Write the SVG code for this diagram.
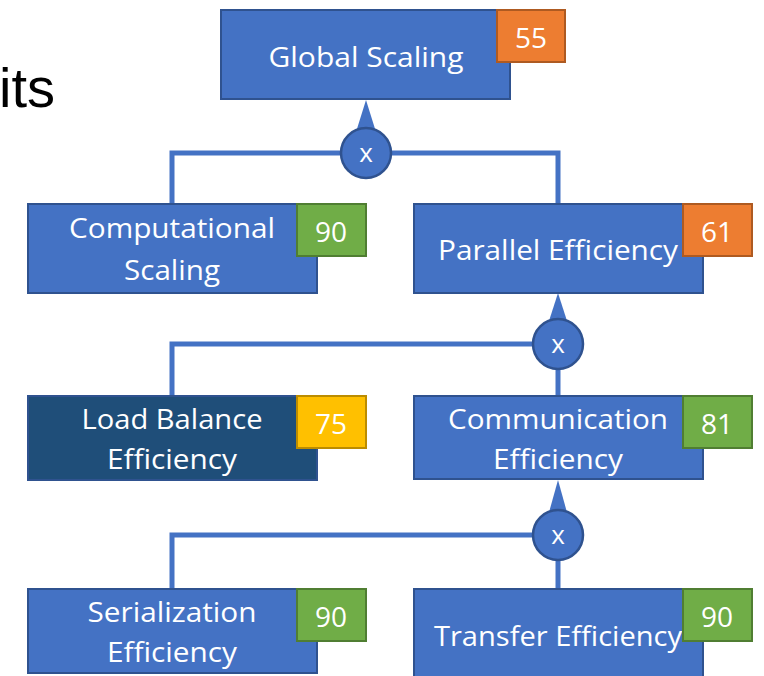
<svg xmlns="http://www.w3.org/2000/svg" width="764" height="676" viewBox="0 0 764 676">
<style>
.box{fill:#4472C4;stroke:#2F528F;stroke-width:2}
.dark{fill:#1F4E79;stroke:#2F528F;stroke-width:2}
.orange{fill:#ED7D31;stroke:#AE5A21;stroke-width:2}
.green{fill:#70AD47;stroke:#507E32;stroke-width:2}
.yellow{fill:#FFC000;stroke:#BC8C00;stroke-width:2}
.lbl{font-family:"Open Sans","Noto Sans",sans-serif;font-size:28px;fill:#FFFFFF;text-anchor:middle}
.num{font-family:"Open Sans","Noto Sans",sans-serif;font-size:28px;fill:#FFFFFF;text-anchor:middle}
.wire{fill:none;stroke:#4472C4;stroke-width:5}
.op{fill:#4472C4;stroke:#2F528F;stroke-width:2.5}
.arr{fill:#4472C4}
.opx{font-family:"Open Sans","Noto Sans",sans-serif;font-size:26px;fill:#FFFFFF;text-anchor:middle}
</style>
<text x="55" y="107" font-family="Liberation Sans, Arial, sans-serif" font-size="56" fill="#000000" text-anchor="end">its</text>
<g id="connectors">
<polyline class="wire" points="172,203 172,153 558,153 558,203"/>
<polygon class="arr" points="366,100 356,132 376,132"/>
<polyline class="wire" points="172,395 172,344 558,344"/>
<line class="wire" x1="558" y1="344" x2="558" y2="395"/>
<polygon class="arr" points="558,293 548,324 568,324"/>
<polyline class="wire" points="172,588 172,535 558,535"/>
<line class="wire" x1="558" y1="535" x2="558" y2="588"/>
<polygon class="arr" points="558,480 548,516 568,516"/>
</g>
<g id="global-scaling">
<rect class="box" x="221" y="10" width="289" height="89"/>
<text class="lbl" x="366" y="67" textLength="195" lengthAdjust="spacingAndGlyphs">Global Scaling</text>
<rect class="orange" x="497" y="10" width="68" height="52"/>
<text class="num" x="531" y="48">55</text>
</g>
<g id="mul-1">
<circle class="op" cx="366" cy="153" r="25"/>
<text class="opx" x="366" y="162">x</text>
</g>
<g id="computational-scaling">
<rect class="box" x="28" y="204" width="289" height="89"/>
<text class="lbl" x="172" y="238" textLength="206" lengthAdjust="spacingAndGlyphs">Computational</text>
<text class="lbl" x="172" y="280" textLength="96" lengthAdjust="spacingAndGlyphs">Scaling</text>
<rect class="green" x="297" y="204" width="69" height="52"/>
<text class="num" x="331" y="242">90</text>
</g>
<g id="parallel-efficiency">
<rect class="box" x="414" y="204" width="289" height="89"/>
<text class="lbl" x="558" y="260" textLength="240" lengthAdjust="spacingAndGlyphs">Parallel Efficiency</text>
<rect class="orange" x="683" y="204" width="69" height="52"/>
<text class="num" x="717" y="242">61</text>
</g>
<g id="mul-2">
<circle class="op" cx="558" cy="344" r="25"/>
<text class="opx" x="558" y="353">x</text>
</g>
<g id="load-balance-efficiency">
<rect class="dark" x="28" y="396" width="289" height="84"/>
<text class="lbl" x="172" y="429" textLength="181" lengthAdjust="spacingAndGlyphs">Load Balance</text>
<text class="lbl" x="172" y="469" textLength="130" lengthAdjust="spacingAndGlyphs">Efficiency</text>
<rect class="yellow" x="297" y="396" width="69" height="52"/>
<text class="num" x="331" y="434">75</text>
</g>
<g id="communication-efficiency">
<rect class="box" x="414" y="396" width="289" height="83"/>
<text class="lbl" x="558" y="429" textLength="220" lengthAdjust="spacingAndGlyphs">Communication</text>
<text class="lbl" x="558" y="469" textLength="130" lengthAdjust="spacingAndGlyphs">Efficiency</text>
<rect class="green" x="683" y="396" width="69" height="52"/>
<text class="num" x="717" y="434">81</text>
</g>
<g id="mul-3">
<circle class="op" cx="558" cy="535" r="25"/>
<text class="opx" x="558" y="544">x</text>
</g>
<g id="serialization-efficiency">
<rect class="box" x="28" y="589" width="289" height="84"/>
<text class="lbl" x="172" y="622" textLength="169" lengthAdjust="spacingAndGlyphs">Serialization</text>
<text class="lbl" x="172" y="662" textLength="130" lengthAdjust="spacingAndGlyphs">Efficiency</text>
<rect class="green" x="297" y="589" width="69" height="52"/>
<text class="num" x="331" y="627">90</text>
</g>
<g id="transfer-efficiency">
<rect class="box" x="414" y="589" width="289" height="90"/>
<text class="lbl" x="558" y="646" textLength="248" lengthAdjust="spacingAndGlyphs">Transfer Efficiency</text>
<rect class="green" x="683" y="589" width="69" height="52"/>
<text class="num" x="717" y="627">90</text>
</g>
</svg>
